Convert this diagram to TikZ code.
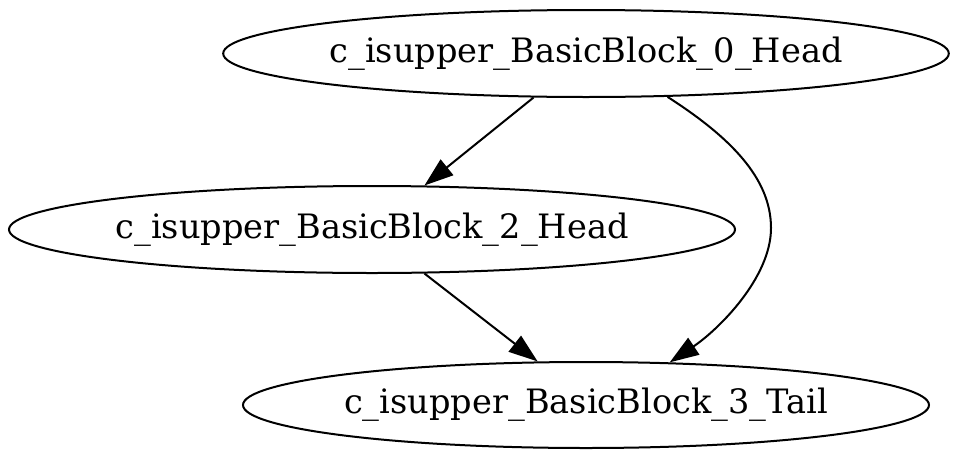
\documentclass[tikz,border=0pt]{standalone}
\usepackage{fontspec}
\setmainfont{DejaVu Serif}
\usetikzlibrary{shapes.geometric,arrows.meta}
\begin{document}
\begin{tikzpicture}[x=1pt,y=-1pt,
  gvnode/.style={draw, ellipse, line width=2pt, inner sep=0pt,
    font=\fontsize{33.6}{40}\selectfont},
  gvedge/.style={draw, line width=2pt, -{Triangle[length=29pt,width=20pt]}}]
\useasboundingbox (0,0) rectangle (960,458);
\node[gvnode, minimum width=724pt, minimum height=87pt] (n0) at (586,53.5) {c\_isupper\_BasicBlock\_0\_Head};
\node[gvnode, minimum width=726pt, minimum height=87pt] (n2) at (372,229.5) {c\_isupper\_BasicBlock\_2\_Head};
\node[gvnode, minimum width=686pt, minimum height=86pt] (n3) at (586,405) {c\_isupper\_BasicBlock\_3\_Tail};
\draw[gvedge] (n0.220.5) -- (n2.40.5);
\draw[gvedge] (n2.320.6) -- (n3.138.7);
\draw[gvedge] (n0.332.6) .. controls (730,137) and (771,178) .. (771,228)
  .. controls (771,278) and (718,330) .. (n3.27.7);
\end{tikzpicture}
\end{document}
